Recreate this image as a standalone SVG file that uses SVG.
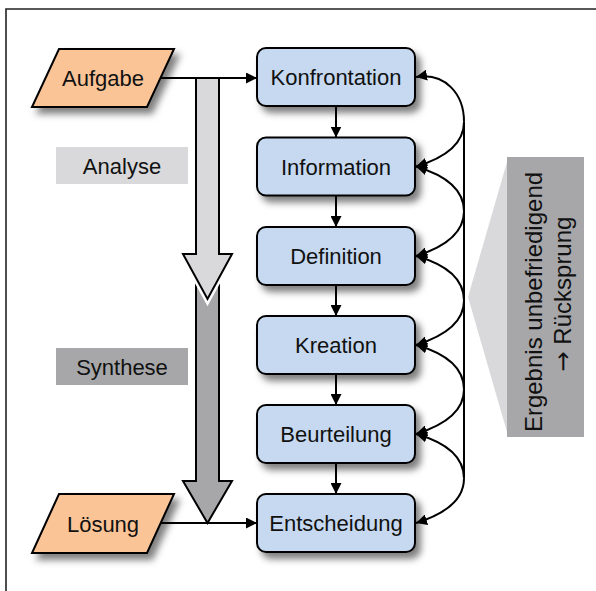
<svg xmlns="http://www.w3.org/2000/svg" width="596" height="591" viewBox="0 0 596 591">
  <defs>
    <filter id="shadow" x="-20%" y="-20%" width="150%" height="170%">
      <feDropShadow dx="5" dy="6" stdDeviation="3.5" flood-color="#000" flood-opacity="0.5"/>
    </filter>
    <marker id="arrow" viewBox="0 0 11 11" refX="11" refY="5.5" markerWidth="11" markerHeight="11" markerUnits="userSpaceOnUse" orient="auto">
      <path d="M0,0 L11,5.5 L0,11 z" fill="#000"/>
    </marker>
    <style>
      .txt { font-family: "Liberation Sans", Arial, sans-serif; font-size: 22px; fill: #111; text-anchor: middle; }
      .note { font-size: 24px; }
      .sym { font-family: "DejaVu Sans", sans-serif; }
      .step rect { fill: #c6d9f0; stroke: #000; stroke-width: 2; filter: url(#shadow); }
      .io polygon { fill: #fac497; stroke: #000; stroke-width: 2; filter: url(#shadow); }
      .conn { fill: none; stroke: #000; stroke-width: 2; marker-end: url(#arrow); }
      .line { fill: none; stroke: #000; stroke-width: 2; }
    </style>
  </defs>

  <rect x="0" y="0" width="596" height="591" fill="#fff"/>

  <!-- frame lines (top and left) -->
  <path d="M6,591 V9 H596" fill="none" stroke="#222" stroke-width="1.6"/>

  <!-- phase labels -->
  <g id="label-analyse">
    <rect x="56" y="147" width="132" height="37" fill="#d9d9db"/>
    <text class="txt" x="122" y="173.5">Analyse</text>
  </g>
  <g id="label-synthese">
    <rect x="56" y="348" width="132" height="37" fill="#a7a7aa"/>
    <text class="txt" x="122" y="374.5">Synthese</text>
  </g>

  <!-- block arrows: synthesis below, analysis on top -->
  <g id="arrow-synthese">
    <path d="M196,262 H219 V481 H232 L207.5,523 L183,481 H196 Z" fill="#a7a7aa" stroke="#000" stroke-width="2"/>
  </g>
  <g id="arrow-analyse">
    <path d="M196,78 H219 V254 H232 L207.5,299 L183,254 H196 Z" fill="none" stroke="#fff" stroke-width="7"/>
    <path d="M196,78 H219 V254 H232 L207.5,299 L183,254 H196 Z" fill="#d9d9db" stroke="#000" stroke-width="2"/>
  </g>

  <!-- feedback side note -->
  <g id="note-ruecksprung">
    <polygon points="468,297 507,162 507,432" fill="#d9d9db"/>
    <rect x="507" y="157" width="77" height="280" fill="#a7a7aa"/>
    <text class="txt note" transform="translate(541.5,302) rotate(-90)">Ergebnis unbefriedigend</text>
    <text class="txt note" transform="translate(571,294) rotate(-90)"><tspan class="sym">→</tspan> Rücksprung</text>
  </g>

  <!-- input / output -->
  <g id="aufgabe" class="io">
    <polygon points="59,49 174,49 147,107 32,107"/>
    <text class="txt" x="103" y="86">Aufgabe</text>
  </g>
  <g id="loesung" class="io">
    <polygon points="59,494 174,494 147,553 32,553"/>
    <text class="txt" x="103" y="532">Lösung</text>
  </g>

  <!-- process steps -->
  <g id="konfrontation" class="step">
    <rect x="257" y="48" width="158" height="58" rx="9"/>
    <text class="txt" x="336" y="85">Konfrontation</text>
  </g>
  <g id="information" class="step">
    <rect x="257" y="137.5" width="158" height="58" rx="9"/>
    <text class="txt" x="336" y="174.5">Information</text>
  </g>
  <g id="definition" class="step">
    <rect x="257" y="227" width="158" height="58" rx="9"/>
    <text class="txt" x="336" y="264">Definition</text>
  </g>
  <g id="kreation" class="step">
    <rect x="257" y="316" width="158" height="58" rx="9"/>
    <text class="txt" x="336" y="353">Kreation</text>
  </g>
  <g id="beurteilung" class="step">
    <rect x="257" y="405" width="158" height="58" rx="9"/>
    <text class="txt" x="336" y="442">Beurteilung</text>
  </g>
  <g id="entscheidung" class="step">
    <rect x="257" y="494" width="158" height="58" rx="9"/>
    <text class="txt" x="336" y="531">Entscheidung</text>
  </g>

  <!-- connectors -->
  <g id="connectors">
    <path class="conn" d="M161,78 H257"/>
    <path class="conn" d="M160,523 H257"/>

    <path class="conn" d="M336,106 V137.5"/>
    <path class="conn" d="M336,195.5 V227"/>
    <path class="conn" d="M336,285 V316"/>
    <path class="conn" d="M336,374 V405"/>
    <path class="conn" d="M336,463 V494"/>

    <!-- return path -->
    <path class="line" d="M464,121.75 V478.5"/>
    <path class="conn" d="M464,121.75 C464,94 445,72 416,77"/>
    <path class="conn" d="M464,121.75 C464,142 448,157 416,166.5"/>
    <path class="conn" d="M464,211.25 C464,191 448,176 416,166.5"/>
    <path class="conn" d="M464,211.25 C464,231 448,246 416,256"/>
    <path class="conn" d="M464,300.5 C464,280 448,265 416,256"/>
    <path class="conn" d="M464,300.5 C464,320 448,335 416,345"/>
    <path class="conn" d="M464,389.5 C464,369 448,354 416,345"/>
    <path class="conn" d="M464,389.5 C464,409 448,424 416,434"/>
    <path class="conn" d="M464,478.5 C464,458 448,443 416,434"/>
    <path class="conn" d="M464,478.5 C464,498 448,513 416,523"/>
  </g>
</svg>
